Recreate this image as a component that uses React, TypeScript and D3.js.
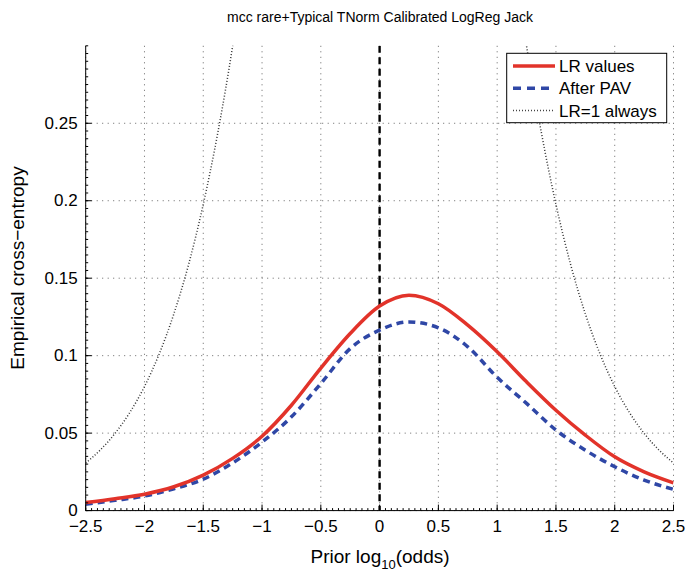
import React, { useEffect, useRef } from 'react';
import * as d3 from 'd3';

// prior log10(odds) sample positions for the two ECE curves
const priorLogOdds = [-2.5, -2.25, -2, -1.75, -1.5, -1.25, -1, -0.75, -0.5, -0.25, 0, 0.25, 0.5, 0.75, 1, 1.25, 1.5, 1.75, 2, 2.25, 2.5];
const lrValues = [0.0052, 0.0077, 0.0106, 0.0154, 0.0229, 0.0337, 0.048, 0.068, 0.092, 0.1143, 0.132, 0.139, 0.1335, 0.1197, 0.1025, 0.0831, 0.0648, 0.0487, 0.0347, 0.025, 0.0179];
const afterPav = [0.0042, 0.0066, 0.0094, 0.0141, 0.0203, 0.0308, 0.0442, 0.0605, 0.082, 0.1046, 0.1165, 0.1218, 0.118, 0.1057, 0.086, 0.0692, 0.052, 0.039, 0.0283, 0.0197, 0.0137];

// LR=1 always (goes off the top of the axes in the middle)
const lrOneLeftX = [-2.5, -2.375, -2.25, -2.125, -2, -1.875, -1.75, -1.625, -1.5, -1.375, -1.25, -1.15];
const lrOneLeftValues = [0.0307, 0.0392, 0.0499, 0.0633, 0.0801, 0.1011, 0.127, 0.1588, 0.1977, 0.2444, 0.2998, 0.3513];
const lrOneRightX = [1.15, 1.25, 1.375, 1.5, 1.625, 1.75, 1.875, 2, 2.125, 2.25, 2.375, 2.5];
const lrOneRightValues = [0.3513, 0.2998, 0.2444, 0.1977, 0.1588, 0.127, 0.1011, 0.0801, 0.0633, 0.0499, 0.0392, 0.0307];

const xTicks = [-2.5, -2, -1.5, -1, -0.5, 0, 0.5, 1, 1.5, 2, 2.5];
const xTickLabels = ['\u22122.5', '\u22122', '\u22121.5', '\u22121', '\u22120.5', '0', '0.5', '1', '1.5', '2', '2.5'];
const yTicks = [0, 0.05, 0.1, 0.15, 0.2, 0.25];
const yTickLabels = ['0', '0.05', '0.1', '0.15', '0.2', '0.25'];

const legendItems = [
  { label: 'LR values', color: '#e2332a', dash: null, width: 3.5 },
  { label: 'After PAV', color: '#2f47a6', dash: '8 6', width: 3.5 },
  { label: 'LR=1 always', color: '#444', dash: '1 2', width: 1.5 },
];

const FONT = '"Liberation Sans", Arial, Helvetica, sans-serif';

export default function App() {
  const ref = useRef<SVGSVGElement | null>(null);

  useEffect(() => {
    const width = 687;
    const height = 573;
    const left = 85.7;
    const right = 673.5;
    const top = 45.8;
    const bottom = 510.6;

    const svg = d3.select(ref.current);
    svg.selectAll('*').remove();
    svg.attr('width', width).attr('height', height);

    svg.append('rect').attr('width', width).attr('height', height).attr('fill', 'white');

    const x = d3.scaleLinear().domain([-2.5, 2.5]).range([left, right]);
    const y = d3.scaleLinear().domain([0, 0.3]).range([bottom, top]);

    svg.append('defs').append('clipPath').attr('id', 'plotclip')
      .append('rect')
      .attr('x', left).attr('y', top)
      .attr('width', right - left).attr('height', bottom - top);

    // grid
    const grid = svg.append('g').attr('stroke', '#666').attr('stroke-width', 1).attr('stroke-dasharray', '1 4.5');
    xTicks.forEach(t => {
      grid.append('line').attr('x1', x(t)).attr('x2', x(t)).attr('y1', top).attr('y2', bottom);
    });
    yTicks.forEach(t => {
      grid.append('line').attr('x1', left).attr('x2', right).attr('y1', y(t)).attr('y2', y(t));
    });

    const plot = svg.append('g').attr('clip-path', 'url(#plotclip)');

    const line = d3.line<[number, number]>()
      .x(d => x(d[0]))
      .y(d => y(d[1]))
      .curve(d3.curveMonotoneX);

    // LR=1 always
    [[lrOneLeftX, lrOneLeftValues], [lrOneRightX, lrOneRightValues]].forEach(([xs, vs]) => {
      plot.append('path')
        .attr('d', line(xs.map((v, i) => [v, vs[i]] as [number, number])))
        .attr('fill', 'none')
        .attr('stroke', '#333')
        .attr('stroke-width', 1.5)
        .attr('stroke-dasharray', '1 2');
    });

    // vertical dashed line at 0
    plot.append('line')
      .attr('x1', x(0)).attr('x2', x(0))
      .attr('y1', top).attr('y2', bottom)
      .attr('stroke', 'black')
      .attr('stroke-width', 2.4)
      .attr('stroke-dasharray', '7 4.5');

    plot.append('path')
      .attr('d', line(priorLogOdds.map((v, i) => [v, afterPav[i]] as [number, number])))
      .attr('fill', 'none')
      .attr('stroke', '#2f47a6')
      .attr('stroke-width', 3.5)
      .attr('stroke-dasharray', '7 5');

    plot.append('path')
      .attr('d', line(priorLogOdds.map((v, i) => [v, lrValues[i]] as [number, number])))
      .attr('fill', 'none')
      .attr('stroke', '#e2332a')
      .attr('stroke-width', 3.5);

    // axes lines + ticks (MATLAB style, ticks inward)
    const axes = svg.append('g').attr('stroke', 'black').attr('stroke-width', 1);
    axes.append('line').attr('x1', left).attr('x2', right).attr('y1', bottom).attr('y2', bottom);
    axes.append('line').attr('x1', left).attr('x2', left).attr('y1', top).attr('y2', bottom);

    d3.range(-2.5, 2.5001, 0.05).forEach(t => {
      axes.append('line').attr('x1', x(t)).attr('x2', x(t)).attr('y1', bottom).attr('y2', bottom - 2.5);
    });
    xTicks.forEach(t => {
      axes.append('line').attr('x1', x(t)).attr('x2', x(t)).attr('y1', bottom).attr('y2', bottom - 6);
    });
    d3.range(0, 0.3001, 0.005).forEach(t => {
      axes.append('line').attr('x1', left).attr('x2', left + 2.5).attr('y1', y(t)).attr('y2', y(t));
    });
    yTicks.forEach(t => {
      axes.append('line').attr('x1', left).attr('x2', left + 6).attr('y1', y(t)).attr('y2', y(t));
    });

    // tick labels
    svg.append('g').selectAll('text').data(xTicks).join('text')
      .attr('x', d => x(d))
      .attr('y', 532)
      .attr('text-anchor', 'middle')
      .attr('font-family', FONT)
      .attr('font-size', 17)
      .text((d, i) => xTickLabels[i]);

    svg.append('g').selectAll('text').data(yTicks).join('text')
      .attr('x', left - 8)
      .attr('y', d => y(d) + 5.5)
      .attr('text-anchor', 'end')
      .attr('font-family', FONT)
      .attr('font-size', 17)
      .text((d, i) => yTickLabels[i]);

    // title
    svg.append('text')
      .attr('x', 380)
      .attr('y', 22)
      .attr('text-anchor', 'middle')
      .attr('font-family', FONT)
      .attr('font-size', 14)
      .text('mcc rare+Typical TNorm Calibrated LogReg Jack');

    // x label
    const xl = svg.append('text')
      .attr('x', 380)
      .attr('y', 563)
      .attr('text-anchor', 'middle')
      .attr('font-family', FONT)
      .attr('font-size', 19);
    xl.append('tspan').text('Prior log');
    xl.append('tspan').attr('font-size', 13).attr('dy', 6).text('10');
    xl.append('tspan').attr('dy', -6).text('(odds)');

    // y label
    svg.append('text')
      .attr('transform', `translate(24,268) rotate(-90)`)
      .attr('text-anchor', 'middle')
      .attr('font-family', FONT)
      .attr('font-size', 19)
      .text('Empirical cross\u2212entropy');

    // legend
    const lg = svg.append('g');
    lg.append('rect')
      .attr('x', 506.7).attr('y', 53.3)
      .attr('width', 160).attr('height', 69.4)
      .attr('fill', 'white')
      .attr('stroke', 'black')
      .attr('stroke-width', 1);
    legendItems.forEach((item, i) => {
      const ly = 66 + i * 22.3;
      const l = lg.append('line')
        .attr('x1', 513).attr('x2', 555)
        .attr('y1', ly).attr('y2', ly)
        .attr('stroke', item.color)
        .attr('stroke-width', item.width);
      if (item.dash) l.attr('stroke-dasharray', item.dash);
      lg.append('text')
        .attr('x', 559)
        .attr('y', ly + 6)
        .attr('font-family', FONT)
        .attr('font-size', 17)
        .text(item.label);
    });
  }, []);

  return <svg ref={ref} style={{ position: 'absolute', left: 0, top: 0 }} />;
}
